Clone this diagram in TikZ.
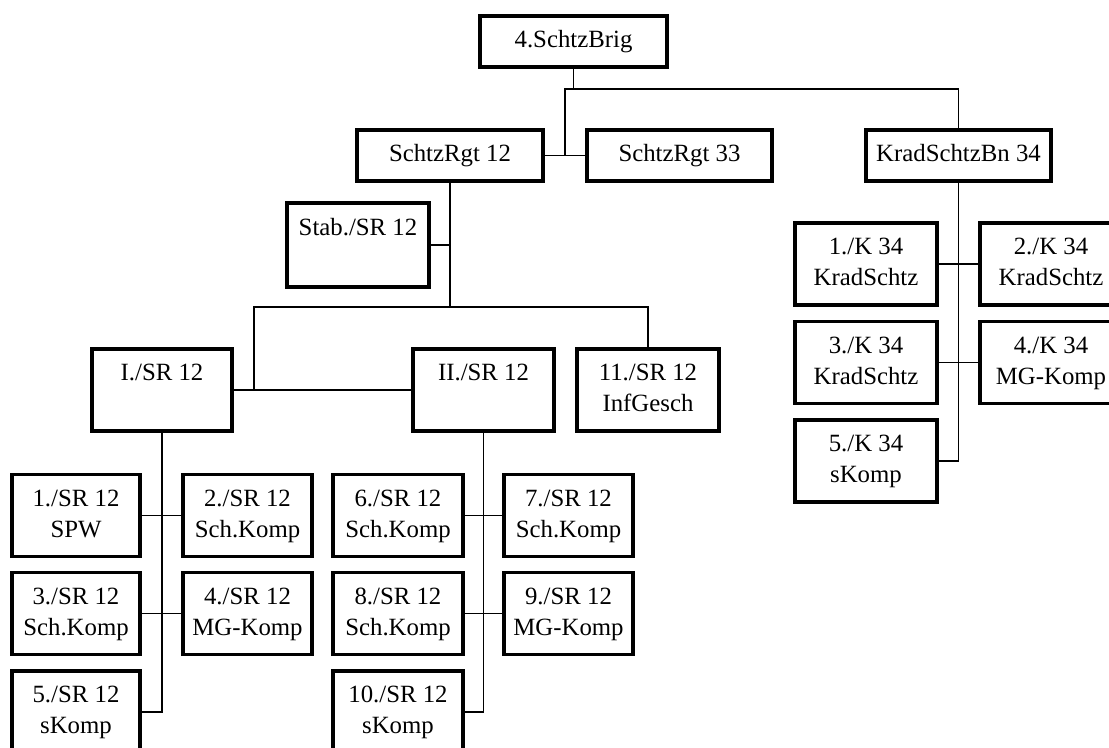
\documentclass[tikz,border=0pt]{standalone}
\usepackage{fontspec}
\setmainfont{Liberation Serif}
\newcommand\twolines[2]{#1\strut\\#2\strut}
\begin{document}
\begin{tikzpicture}[x=0.75pt,y=-0.75pt,
  unit/.style={draw=black,line width=2.6pt,fill=white,inner sep=0pt,
    align=center,font=\fontsize{18.6}{23.25}\selectfont},
  wide/.style={unit,minimum width=#1*0.75pt,minimum height=51*0.75pt},
  tall/.style={unit,minimum width=#1*0.75pt,minimum height=82*0.75pt},
  link/.style={line width=1.2pt,line cap=rect}]
\useasboundingbox (0,0) rectangle (1109,747);
\clip (0,0) rectangle (1109,747);

% junction points of the two horizontal buses
\coordinate (busA) at (565,89);
\coordinate (busB) at (254,307);

% brigade level
\node[wide=187] (brig) at (573.5,41.5) {4.SchtzBrig\strut};
\node[wide=186] (rgt12) at (450,155.5) {SchtzRgt 12\strut};
\node[wide=185] (rgt33) at (679.5,155.5) {SchtzRgt 33\strut};
\node[wide=185] (krad) at (958.5,155.5) {KradSchtzBn 34\strut};

% regiment 12
\node[unit,minimum width=142*0.75pt,minimum height=84*0.75pt] (stab) at (358,245) {\twolines{Stab./SR 12}{}};
\node[tall=140] (bnI) at (162,390) {\twolines{I./SR 12}{}};
\node[tall=141] (bnII) at (483.5,390) {\twolines{II./SR 12}{}};
\node[tall=142] (inf) at (648,390) {\twolines{11./SR 12}{InfGesch}};

% companies of I./SR 12
\node[tall=128] (c1) at (76,515.5) {\twolines{1./SR 12}{SPW}};
\node[tall=129] (c2) at (247.5,515.5) {\twolines{2./SR 12}{Sch.Komp}};
\node[tall=128] (c3) at (76,613.5) {\twolines{3./SR 12}{Sch.Komp}};
\node[tall=129] (c4) at (247.5,613.5) {\twolines{4./SR 12}{MG-Komp}};
\node[tall=128] (c5) at (76,712) {\twolines{5./SR 12}{sKomp}};

% companies of II./SR 12
\node[tall=130] (c6) at (398,515.5) {\twolines{6./SR 12}{Sch.Komp}};
\node[tall=129] (c7) at (568.5,515.5) {\twolines{7./SR 12}{Sch.Komp}};
\node[tall=130] (c8) at (398,613.5) {\twolines{8./SR 12}{Sch.Komp}};
\node[tall=129] (c9) at (568.5,613.5) {\twolines{9./SR 12}{MG-Komp}};
\node[tall=130] (c10) at (398,712) {\twolines{10./SR 12}{sKomp}};

% companies of KradSchtzBn 34
\node[tall=142] (k1) at (866,264) {\twolines{1./K 34}{KradSchtz}};
\node[tall=142] (k2) at (1051,264) {\twolines{2./K 34}{KradSchtz}};
\node[tall=142] (k3) at (866,362.5) {\twolines{3./K 34}{KradSchtz}};
\node[tall=142] (k4) at (1051,362.5) {\twolines{4./K 34}{MG-Komp}};
\node[tall=142] (k5) at (866,461) {\twolines{5./K 34}{sKomp}};

% brigade connectors
\draw[link] (brig.south) |- (busA);
\draw[link] (krad.north) |- (busA);
\draw[link] (busA) -- (busA |- rgt12.east);
\draw[link] (rgt12.east) -- (rgt33.west);

% regiment 12 connectors
\draw[link] (rgt12.south) -- (rgt12.south |- busB);
\draw[link] (stab.east) -- (stab.east -| rgt12.south);
\draw[link] (inf.north) |- (busB);
\draw[link] (busB) -- (busB |- bnI.east);
\draw[link] (bnI.east) -- (bnII.west);

% battalion I connectors
\draw[link] (bnI.south) -- (bnI.south |- c5.east) -- (c5.east);
\draw[link] (c1.east) -- (c2.west);
\draw[link] (c3.east) -- (c4.west);

% battalion II connectors
\draw[link] (bnII.south) -- (bnII.south |- c10.east) -- (c10.east);
\draw[link] (c6.east) -- (c7.west);
\draw[link] (c8.east) -- (c9.west);

% motorcycle battalion connectors
\draw[link] (krad.south) -- (krad.south |- k5.east) -- (k5.east);
\draw[link] (k1.east) -- (k2.west);
\draw[link] (k3.east) -- (k4.west);
\end{tikzpicture}
\end{document}
